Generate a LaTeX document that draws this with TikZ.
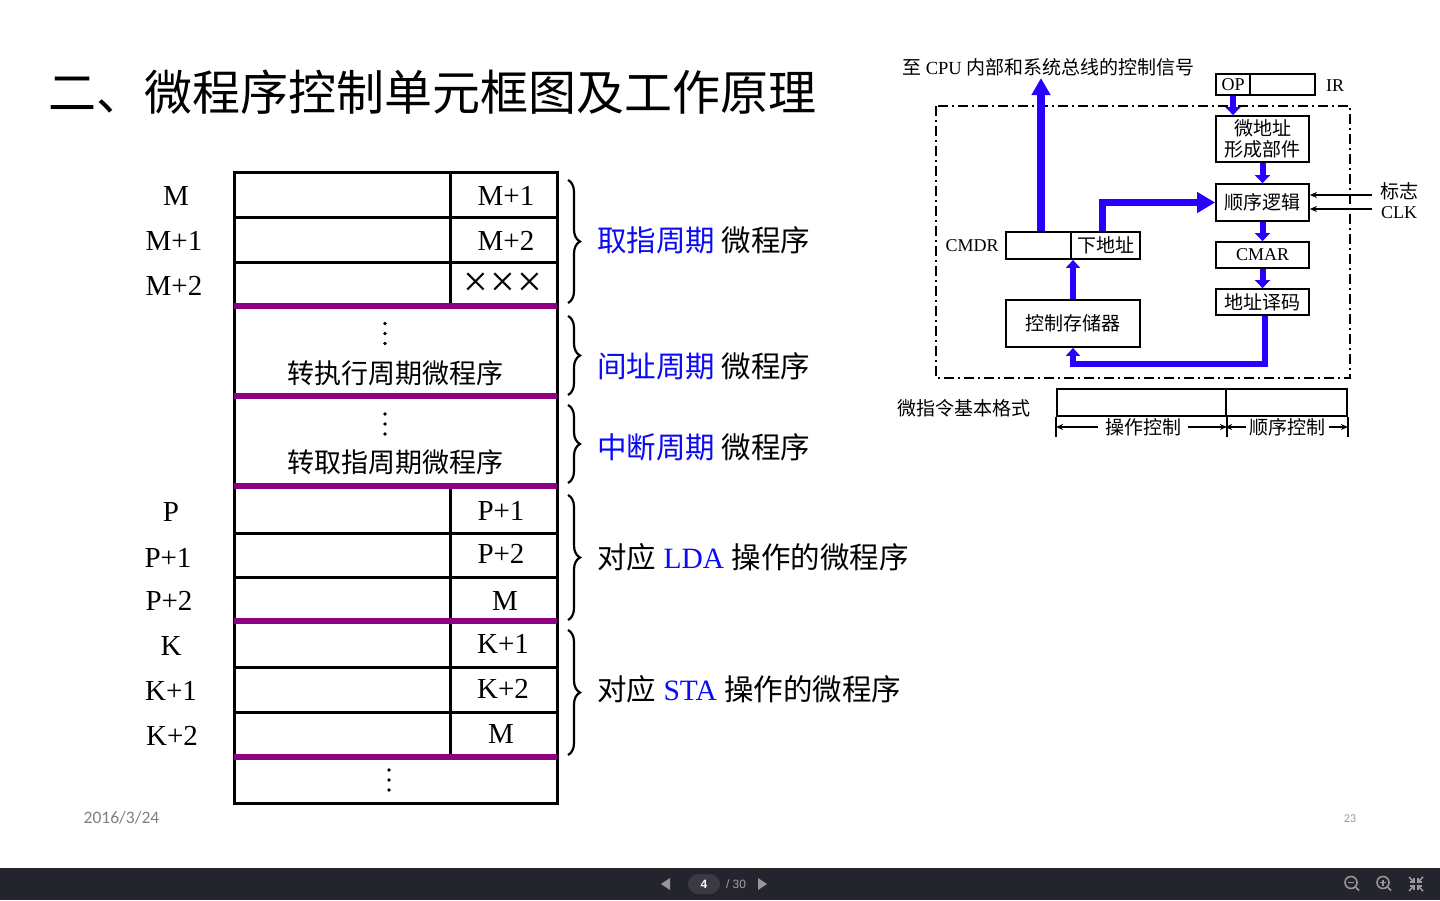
\documentclass[tikz,border=0pt]{standalone}
\usepackage{fontspec}
\setmainfont{Liberation Serif}
\newfontfamily\cjk{Noto Sans CJK SC}
\newfontfamily\carl{Carlito}
\newfontfamily\uisans{Liberation Sans}
\usetikzlibrary{arrows.meta,decorations.pathreplacing,calc}
\definecolor{purp}{RGB}{140,0,130}
\definecolor{tblue}{RGB}{10,10,245}
\definecolor{ablue}{RGB}{40,0,255}
\definecolor{barbg}{RGB}{36,36,44}
\definecolor{pill}{RGB}{58,58,68}
\definecolor{icong}{RGB}{150,150,155}
\definecolor{dgray}{RGB}{128,128,128}
\newcommand\setfs[1]{\fontsize{#1}{#1}\selectfont}
\tikzset{
  grid/.style={line width=3pt},
  purpline/.style={purp,line width=6pt},
  lab/.style={inner sep=0,font=\setfs{29}},
  brc/.style={decorate,decoration={brace,amplitude=12pt},line width=2.2pt},
  blab/.style={anchor=west,inner sep=0},
  rbox/.style={draw,line width=1.8pt,inner sep=0,font=\cjk\setfs{19}},
  bigarrow/.style={ablue,line width=8pt,-{Triangle[length=17pt,width=18pt]}},
  midarrow/.style={ablue,line width=7pt,-{Triangle[length=18pt,width=20pt]}},
  smallarrow/.style={ablue,line width=6pt,-{Triangle[length=8pt,width=15pt]}},
  looparrow/.style={ablue,line width=6.5pt,-{Triangle[length=8pt,width=14pt]}},
  thinarrow/.style={line width=1.3pt,-{Stealth[length=7pt,width=6pt]}},
  vdot/.style={fill=black,circle,inner sep=0,minimum size=3.6pt},
}
\begin{document}
\begin{tikzpicture}[x=1pt,y=-1pt]
\useasboundingbox (0,0) rectangle (1440,900);
\fill[white] (0,0) rectangle (1440,900);

% title
\node[anchor=west,inner sep=0] (title) at (48,92) {\cjk\setfs{48}二、微程序控制单元框图及工作原理};

% table
\draw[grid] (234,172) rectangle (557,803);
\foreach \yy in {217,262,533,577,667,712} \draw[grid] (234,\yy) -- (557,\yy);
\draw[grid] (450,172) -- (450,306);
\draw[grid] (450,486) -- (450,757);
\foreach \yy in {306,396,486,621,757} \draw[purpline] (234,\yy) -- (557,\yy);

% left addresses
\foreach \t/\xx/\yy [count=\i] in {M/176/196, M+1/174/241, M+2/174/286, P/171/512, P+1/168/558, P+2/169/601, K/171/646, K+1/171/691, K+2/172/736}
  \node[lab] (la\i) at (\xx,\yy) {\t};
% next addresses
\foreach \t/\xx/\yy [count=\i] in {M+1/506/196, M+2/506/241, P+1/501/511, P+2/501/554, M/505/601, K+1/503/644, K+2/503/689, M/501/734}
  \node[lab] (na\i) at (\xx,\yy) {\t};
\node[inner sep=0,font=\setfs{44}] (xxx) at (503,285) {×\hspace{2pt}×\hspace{2pt}×};

% vertical ellipses
\foreach \xx/\yy [count=\j] in {385/333.5, 385/424, 389/780}{
  \node[vdot] (va\j) at (\xx,\yy-10) {};
  \node[vdot] (vb\j) at (\xx,\yy) {};
  \node[vdot] (vc\j) at (\xx,\yy+10) {};
}
\node[inner sep=0] (t1) at (395,373) {\cjk\setfs{27}转执行周期微程序};
\node[inner sep=0] (t2) at (395,462) {\cjk\setfs{27}转取指周期微程序};

% braces
\draw[brc] (568,180) -- (568,303);
\draw[brc] (568,316) -- (568,395);
\draw[brc] (568,405) -- (568,483);
\draw[brc] (568,495) -- (568,620);
\draw[brc] (568,630) -- (568,755);

\node[blab] (b1) at (597,240) {\cjk\setfs{29.5}\textcolor{tblue}{取指周期} 微程序};
\node[blab] (b2) at (597,366) {\cjk\setfs{29.5}\textcolor{tblue}{间址周期} 微程序};
\node[blab] (b3) at (597,447) {\cjk\setfs{29.5}\textcolor{tblue}{中断周期} 微程序};
\node[blab] (b4) at (597,557) {\setfs{29.5}{\cjk 对应} \textcolor{tblue}{LDA} {\cjk 操作的微程序}};
\node[blab] (b5) at (597,689) {\setfs{29.5}{\cjk 对应} \textcolor{tblue}{STA} {\cjk 操作的微程序}};

% ---------- right diagram ----------
\node[anchor=west,inner sep=0] (toptext) at (902,67) {\setfs{18.5}{\cjk\setfs{19}至} CPU {\cjk\setfs{19}内部和系统总线的控制信号}};
\draw[line width=1.2pt,dash pattern=on 10pt off 4pt on 2pt off 4pt] (936,106) rectangle (1350,378);

\node[rbox,font=\setfs{18},minimum width=34pt,minimum height=21pt] (op) at (1233,84.5) {OP};
\node[rbox,minimum width=65pt,minimum height=21pt] (ir) at (1282.5,84.5) {};
\node[inner sep=0,font=\setfs{18}] (irl) at (1335,86) {IR};

\node[rbox,font=\cjk\fontsize{19}{21}\selectfont,minimum width=93pt,minimum height=46pt,align=center] (wdz) at (1262.5,139) {微地址\\形成部件};
\node[rbox,minimum width=93pt,minimum height=37pt] (sx) at (1262.5,202.5) {顺序逻辑};
\node[rbox,font=\setfs{18},minimum width=93pt,minimum height=26pt] (cmar) at (1262.5,255) {CMAR};
\node[rbox,minimum width=93pt,minimum height=26pt] (dzym) at (1262.5,302) {地址译码};
\node[rbox,minimum width=134pt,minimum height=47pt] (kzcc) at (1073,323.5) {控制存储器};
\node[rbox,minimum width=65pt,minimum height=27pt] (cmdrL) at (1038.5,245.5) {};
\node[rbox,minimum width=69pt,minimum height=27pt] (cmdrR) at (1105.5,245.5) {下地址};
\node[inner sep=0,font=\setfs{18}] (cmdrl) at (972,246) {CMDR};

\node[inner sep=0,font=\cjk\setfs{19}] (flag) at (1399,191) {标志};
\node[inner sep=0,font=\setfs{18}] (clk) at (1399,213) {CLK};

\coordinate (cpuout) at (1041,78);
\coordinate (xdz) at (1102,0);
\coordinate (lp) at (1265,364);
\coordinate (flagin) at (1372,195);
\coordinate (clkin) at (1372,209);

\draw[bigarrow] (cpuout |- cmdrL.north) -- (cpuout);
\draw[smallarrow] (op.south) -- (op.south |- wdz.north);
\draw[smallarrow] (wdz.south) -- (sx.north);
\draw[smallarrow] (sx.south) -- (cmar.north);
\draw[smallarrow] (cmar.south) -- (dzym.north);
\draw[midarrow] (cmdrR.north -| xdz) |- (sx.west);
\draw[looparrow] (dzym.south -| lp) -- (lp) -| (kzcc.south);
\draw[looparrow] (kzcc.north) -- (kzcc.north |- cmdrL.south);
\draw[thinarrow] (flagin) -- (sx.east |- flagin);
\draw[thinarrow] (clkin) -- (sx.east |- clkin);

% microinstruction format
\node[anchor=west,inner sep=0,font=\cjk\setfs{19}] (fmt) at (897,408) {微指令基本格式};
\node[draw,line width=1.8pt,minimum width=169pt,minimum height=27pt,inner sep=0] (opf) at (1141.5,402.5) {};
\node[draw,line width=1.8pt,minimum width=121pt,minimum height=27pt,inner sep=0] (sqf) at (1286.5,402.5) {};
\draw[line width=1.8pt] (opf.south west) -- ++(0,20);
\draw[line width=1.8pt] (opf.south east) -- ++(0,20);
\draw[line width=1.8pt] (sqf.south east) -- ++(0,20);
\node[inner ysep=0,inner xsep=7pt,font=\cjk\setfs{19}] (opc) at (1143,427) {操作控制};
\node[inner ysep=0,inner xsep=3pt,font=\cjk\setfs{19}] (sqc) at (1287.5,427) {顺序控制};
\draw[thinarrow] (opc.west) -- (opc.west -| opf.west);
\draw[thinarrow] (opc.east) -- (opc.east -| opf.east);
\draw[thinarrow] (sqc.west) -- (sqc.west -| sqf.west);
\draw[thinarrow] (sqc.east) -- (sqc.east -| sqf.east);

% footer texts
\node[inner sep=0,font=\carl\setfs{17.5},text=dgray] (date) at (121.5,818) {2016/3/24};
\node[inner sep=0,font=\carl\setfs{12},text=dgray!80] (pnum) at (1350,819) {23};

% bottom bar
\fill[barbg] (0,868) rectangle (1440,900);
\fill[icong] (661,884) -- (670,878) -- (670,890) -- cycle;
\fill[icong] (758,878) -- (758,890) -- (767,884) -- cycle;
\fill[pill,rounded corners=10pt] (688,874) rectangle (720,894);
\node[inner sep=0,text=white,font=\uisans\bfseries\setfs{12}] (pg) at (704,884) {4};
\node[inner sep=0,text=icong!90!white,font=\uisans\setfs{12}] (pgt) at (736,884) {/ 30};
% zoom out
\draw[icong,line width=1.6pt] (1351,882.5) circle (6pt);
\draw[icong,line width=1.6pt] (1355.5,887) -- (1359,890.5);
\draw[icong,line width=1.6pt] (1348,882.5) -- (1354,882.5);
% zoom in
\draw[icong,line width=1.6pt] (1383,882.5) circle (6pt);
\draw[icong,line width=1.6pt] (1387.5,887) -- (1391,890.5);
\draw[icong,line width=1.6pt] (1380,882.5) -- (1386,882.5);
\draw[icong,line width=1.6pt] (1383,879.5) -- (1383,885.5);
% collapse
\foreach \sx/\sy in {1/1,-1/1,1/-1,-1/-1}{
  \draw[icong,line width=1.6pt] (1416+7*\sx,884+7*\sy) -- (1416+2.5*\sx,884+2.5*\sy);
  \draw[icong,line width=1.6pt] (1416+2*\sx,884+6*\sy) -- (1416+2*\sx,884+2*\sy) -- (1416+6*\sx,884+2*\sy);
}
\end{tikzpicture}
\end{document}
